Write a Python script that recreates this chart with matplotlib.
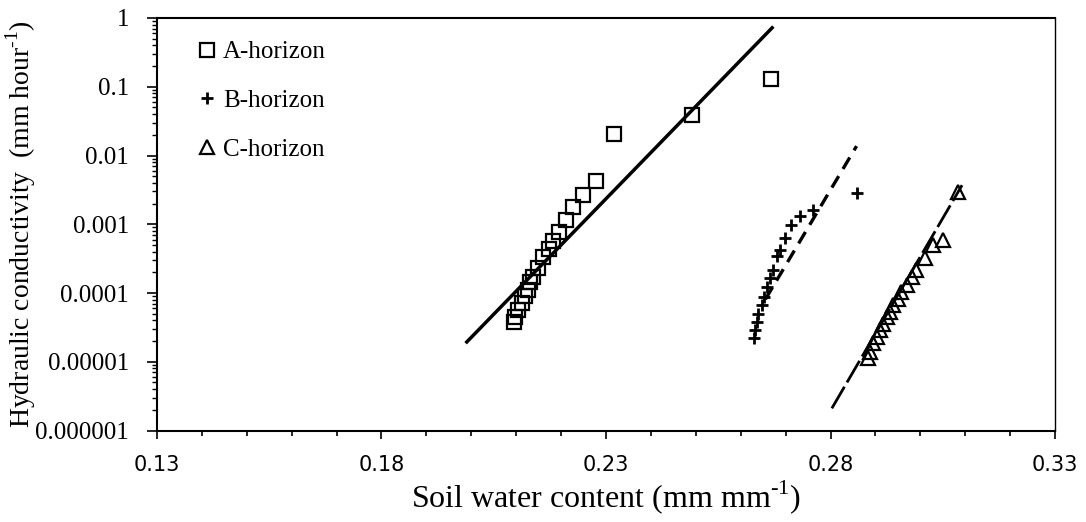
import matplotlib
matplotlib.use("Agg")
import matplotlib.pyplot as plt
from matplotlib.ticker import FixedLocator, LogLocator, NullFormatter

plt.rcParams['font.family'] = 'Liberation Serif'
plt.rcParams['mathtext.fontset'] = 'custom'
plt.rcParams['mathtext.rm'] = 'Liberation Serif'

# Soil water content (mm/mm) and hydraulic conductivity (mm/hour) per horizon
theta_a = [0.2094, 0.2097, 0.2105, 0.2112, 0.2120, 0.2127, 0.2131, 0.2138, 0.2149, 0.2160,
           0.2172, 0.2183, 0.2195, 0.2210, 0.2227, 0.2249, 0.2277, 0.2318, 0.2491, 0.2667]
k_a = [3.8e-5, 4.5e-5, 5.6e-5, 7.1e-5, 8.9e-5, 1.1e-4, 1.46e-4, 1.7e-4, 2.3e-4, 3.3e-4,
       4.4e-4, 5.7e-4, 7.8e-4, 1.15e-3, 1.8e-3, 2.66e-3, 4.25e-3, 0.0206, 0.039, 0.13]

theta_b = [0.2630, 0.2632, 0.2636, 0.2639, 0.2647, 0.2652, 0.2658, 0.2665, 0.2671, 0.2680,
           0.2688, 0.2699, 0.2713, 0.2732, 0.2762, 0.2858]
k_b = [2.2e-5, 2.9e-5, 3.8e-5, 5.0e-5, 6.7e-5, 8.8e-5, 1.23e-4, 1.63e-4, 2.16e-4, 3.4e-4,
       4.2e-4, 6.3e-4, 9.8e-4, 1.32e-3, 1.61e-3, 2.88e-3]

theta_c = [0.2884, 0.2888, 0.2895, 0.2903, 0.2910, 0.2918, 0.2925, 0.2932, 0.2940, 0.2951,
           0.2958, 0.2970, 0.2981, 0.2990, 0.3010, 0.3029, 0.3051, 0.3085]
k_c = [1.12e-5, 1.4e-5, 1.85e-5, 2.3e-5, 2.9e-5, 3.6e-5, 4.5e-5, 5.3e-5, 6.7e-5, 8.3e-5,
       1.05e-4, 1.31e-4, 1.73e-4, 2.16e-4, 3.2e-4, 5.0e-4, 5.9e-4, 2.97e-3]

# fitted log-linear lines (end points)
fit_a_x = [0.1990, 0.2670]
fit_a_y = [1.94e-5, 0.72]
fit_b_x = [0.2655, 0.2858]
fit_b_y = [8.1e-5, 0.0137]
fit_c_x = [0.2803, 0.3093]
fit_c_y = [2.1e-6, 3.7e-3]

x_ticks = [0.13, 0.18, 0.23, 0.28, 0.33]
y_ticks = [1e-6, 1e-5, 1e-4, 1e-3, 1e-2, 1e-1, 1]
y_labels = ['0.000001', '0.00001', '0.0001', '0.001', '0.01', '0.1', '1']

fig = plt.figure(figsize=(10.86, 5.22), dpi=100)
ax = fig.add_axes([157 / 1086, 1 - 430.5 / 522, 898 / 1086, 412.5 / 522])

ax.plot(theta_a, k_a, ls='none', marker='s', ms=10.5, mfc='none', mec='black', mew=1.6,
        label='A-horizon', zorder=3)
ax.plot(theta_b, k_b, ls='none', marker='+', ms=9, mec='black', mew=2,
        label='B-horizon', zorder=3)
ax.plot(theta_c, k_c, ls='none', marker='^', ms=9.5, mfc='none', mec='black', mew=1.6,
        label='C-horizon', zorder=3)

ax.plot(fit_a_x, fit_a_y, color='black', lw=2.5)
ax.plot(fit_b_x, fit_b_y, color='black', lw=2.4, dashes=(4, 2.5))
ax.plot(fit_c_x, fit_c_y, color='black', lw=2.0, dashes=(9, 1.8))

ax.set_yscale('log')
ax.set_xlim(0.13, 0.33)
ax.set_ylim(1e-6, 1)

ax.xaxis.set_major_locator(FixedLocator(x_ticks))
ax.xaxis.set_minor_locator(FixedLocator([0.13 + 0.01 * i for i in range(21)]))
ax.set_xticklabels(['%.2f' % v for v in x_ticks], fontfamily='DejaVu Sans', fontsize=15)

ax.set_yticks(y_ticks)
ax.set_yticklabels(y_labels, fontsize=18)
ax.yaxis.set_minor_locator(LogLocator(base=10, subs=range(2, 10), numticks=20))
ax.yaxis.set_minor_formatter(NullFormatter())

ax.tick_params(axis='x', which='major', direction='out', length=5.8, width=1.2, pad=12)
ax.tick_params(axis='x', which='minor', direction='out', length=3.6, width=1.2)
ax.tick_params(axis='y', which='major', direction='out', length=7, width=1.2, pad=13)
ax.tick_params(axis='y', which='minor', direction='out', length=3.6, width=1.0)

for side in ['left', 'bottom', 'top']:
    ax.spines[side].set_linewidth(1.5)
ax.spines['right'].set_linewidth(1.0)

ax.set_xlabel(r'Soil water content (mm mm$^{\text{-1}}$)', fontsize=23)
ax.set_ylabel(r'Hydraulic conductivity  (mm hour$^{\text{-1}}$)', fontsize=20)
ax.xaxis.set_label_coords(0.5, -0.115)
ax.yaxis.set_label_coords(-0.133, 0.5)

ax.legend(loc='upper left', bbox_to_anchor=(0.032, 0.975), frameon=False, fontsize=18,
          handlelength=0.7, handletextpad=0.3, labelspacing=1.05, borderpad=0, numpoints=1,
          markerscale=1.0)

fig.savefig('out.png', dpi=100)
